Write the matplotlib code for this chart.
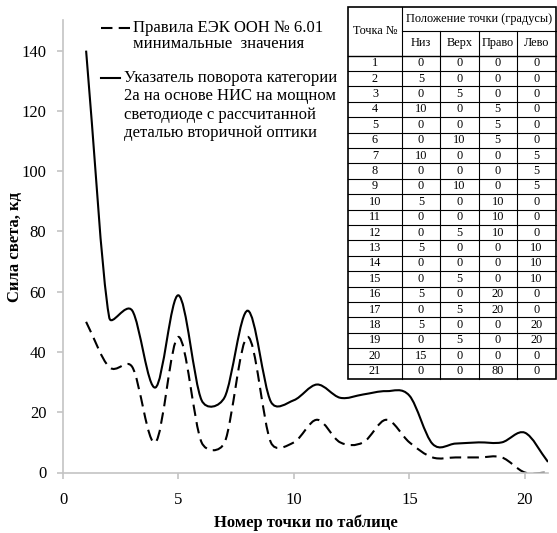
import numpy as np
import matplotlib
matplotlib.use("Agg")
import matplotlib.pyplot as plt
from matplotlib.path import Path
from matplotlib.patches import PathPatch, Rectangle
from matplotlib.lines import Line2D

plt.rcParams["font.family"] = ["Liberation Serif", "DejaVu Serif"]

points = list(range(1, 22))
ece_min = [50, 35, 35, 10, 45, 10, 10, 45, 10, 10, 17.5, 10, 10, 17.5, 10, 5, 5, 5, 5, 0, 0]
indicator = [140, 51.5, 53.7, 28.2, 58.8, 24, 25, 53.7, 23.5, 24, 29.2, 24.8, 25.9, 27, 25.5,
             9.5, 9.6, 10, 10, 13.2, 3.5]

tab_points = [str(p) for p in points]
tab_niz = [0, 5, 0, 10, 0, 0, 10, 0, 0, 5, 0, 0, 5, 0, 0, 5, 0, 5, 0, 15, 0]
tab_verkh = [0, 0, 5, 0, 0, 10, 0, 0, 10, 0, 0, 5, 0, 0, 5, 0, 5, 0, 5, 0, 0]
tab_pravo = [0, 0, 0, 5, 5, 5, 0, 0, 0, 10, 10, 10, 0, 0, 0, 20, 20, 0, 0, 0, 80]
tab_levo = [0, 0, 0, 0, 0, 0, 5, 5, 5, 0, 0, 0, 10, 10, 10, 0, 0, 20, 20, 0, 0]

W, H = 557, 533
fig = plt.figure(figsize=(W / 100, H / 100), dpi=100)
ax = fig.add_axes([63 / W, 1 - 472.5 / H, (548 - 63) / W, (472.5 - 20.5) / H])
ax.set_xlim(0, 21)
ax.set_ylim(0, 150)


def smooth_path(ax, xs, ys):
    # excel-like smoothed line: bezier segments computed in screen space
    pts = ax.transData.transform(np.column_stack([xs, ys]))
    n = len(pts)
    verts = [pts[0]]
    codes = [Path.MOVETO]
    for i in range(n - 1):
        p0 = pts[i - 1] if i > 0 else pts[i]
        p1, p2 = pts[i], pts[i + 1]
        p3 = pts[i + 2] if i + 2 < n else pts[i + 1]
        d12 = np.linalg.norm(p2 - p1)
        d02 = np.linalg.norm(p2 - p0)
        d13 = np.linalg.norm(p3 - p1)
        f1 = 1 / 3 if i == 0 else 1 / 6
        f2 = 1 / 3 if i + 2 >= n else 1 / 6
        if d02 > 0:
            f1 = min(f1, d12 / (2 * d02))
        if d13 > 0:
            f2 = min(f2, d12 / (2 * d13))
        c1 = p1 + (p2 - p0) * f1
        c2 = p2 - (p3 - p1) * f2
        verts += [c1, c2, p2]
        codes += [Path.CURVE4] * 3
    verts = ax.transData.inverted().transform(np.array(verts))
    return Path(verts, codes)


ax.add_patch(PathPatch(smooth_path(ax, points, ece_min), fill=False, color="black",
                       lw=1.5, linestyle=(0, (5.5, 3)), capstyle="butt"))
ax.add_patch(PathPatch(smooth_path(ax, points, indicator), fill=False, color="black", lw=1.5))

for side in ["top", "right"]:
    ax.spines[side].set_visible(False)
for side in ["left", "bottom"]:
    ax.spines[side].set_color("#c4c4c4")
    ax.spines[side].set_linewidth(1.2)
ax.set_xticks([0, 5, 10, 15, 20])
ax.set_yticks(np.arange(0, 141, 20))
ax.tick_params(colors="#c4c4c4", labelcolor="black", labelsize=12, length=4, width=1.2)
ax.tick_params(axis="y", pad=8)
ax.tick_params(axis="x", pad=10)
ax.set_xlabel("Номер точки по таблице", fontsize=12, fontweight="bold")
ax.xaxis.set_label_coords(0.5, -(523 - 472.5) / 452)
ax.xaxis.label.set_va("center")
ax.set_ylabel("Сила света, кд", fontsize=12, fontweight="bold")
ax.yaxis.set_label_coords(-(63 - 15.5) / 485, 0.5)
ax.yaxis.label.set_va("center")

# legend
fig.add_artist(Line2D([101 / W, 130 / W], [1 - 28 / H, 1 - 28 / H], color="black",
                      lw=1.5, linestyle=(0, (5.5, 3))))
fig.text(133 / W, 1 - 19.5 / H, "Правила ЕЭК ООН № 6.01\nминимальные  значения",
         fontsize=12, va="top", ha="left", linespacing=1.05)
fig.add_artist(Line2D([101 / W, 120 / W], [1 - 77.5 / H, 1 - 77.5 / H], color="black", lw=1.5))
fig.text(124 / W, 1 - 70 / H,
         "Указатель поворота категории\n2а на основе НИС на мощном\nсветодиоде с рассчитанной\nдеталью вторичной оптики",
         fontsize=12, va="top", ha="left", linespacing=1.2)

# table
tax = fig.add_axes([0, 0, 1, 1], zorder=5)
tax.set_xlim(0, W)
tax.set_ylim(H, 0)
tax.axis("off")
cols = [348, 402, 440, 478.5, 517, 556]
top, mid, hdr = 7, 30.5, 55.5
rh = 15.4
bottom = hdr + rh * len(points)
tax.add_patch(Rectangle((cols[0], top), cols[-1] - cols[0], bottom - top,
                        facecolor="white", edgecolor="black", lw=1.2))
tax.plot([cols[1], cols[-1]], [mid, mid], color="black", lw=0.8)
tax.plot([cols[1], cols[1]], [top, bottom], color="black", lw=0.8)
for c in cols[2:-1]:
    tax.plot([c, c], [mid, bottom], color="black", lw=0.8)
for k in range(len(points)):
    y = hdr + rh * k
    tax.plot([cols[0], cols[-1]], [y, y], color="black", lw=1.0 if k == 0 else 0.8)

tfs = 8.8
tax.text((cols[0] + cols[1]) / 2, (top + hdr) / 2, "Точка №", fontsize=tfs,
         ha="center", va="center")
tax.text((cols[1] + cols[-1]) / 2, (top + mid) / 2, "Положение точки (градусы)",
         fontsize=tfs, ha="center", va="center")
for j, name in enumerate(["Низ", "Верх", "Право", "Лево"]):
    tax.text((cols[j + 1] + cols[j + 2]) / 2, (mid + hdr) / 2, name, fontsize=tfs,
             ha="center", va="center")
for k in range(len(points)):
    yc = hdr + rh * (k + 0.5)
    row = [tab_points[k], tab_niz[k], tab_verkh[k], tab_pravo[k], tab_levo[k]]
    for j, val in enumerate(row):
        tax.text((cols[j] + cols[j + 1]) / 2, yc, str(val), fontsize=tfs,
                 ha="center", va="center")

fig.savefig("out.png", dpi=100)
